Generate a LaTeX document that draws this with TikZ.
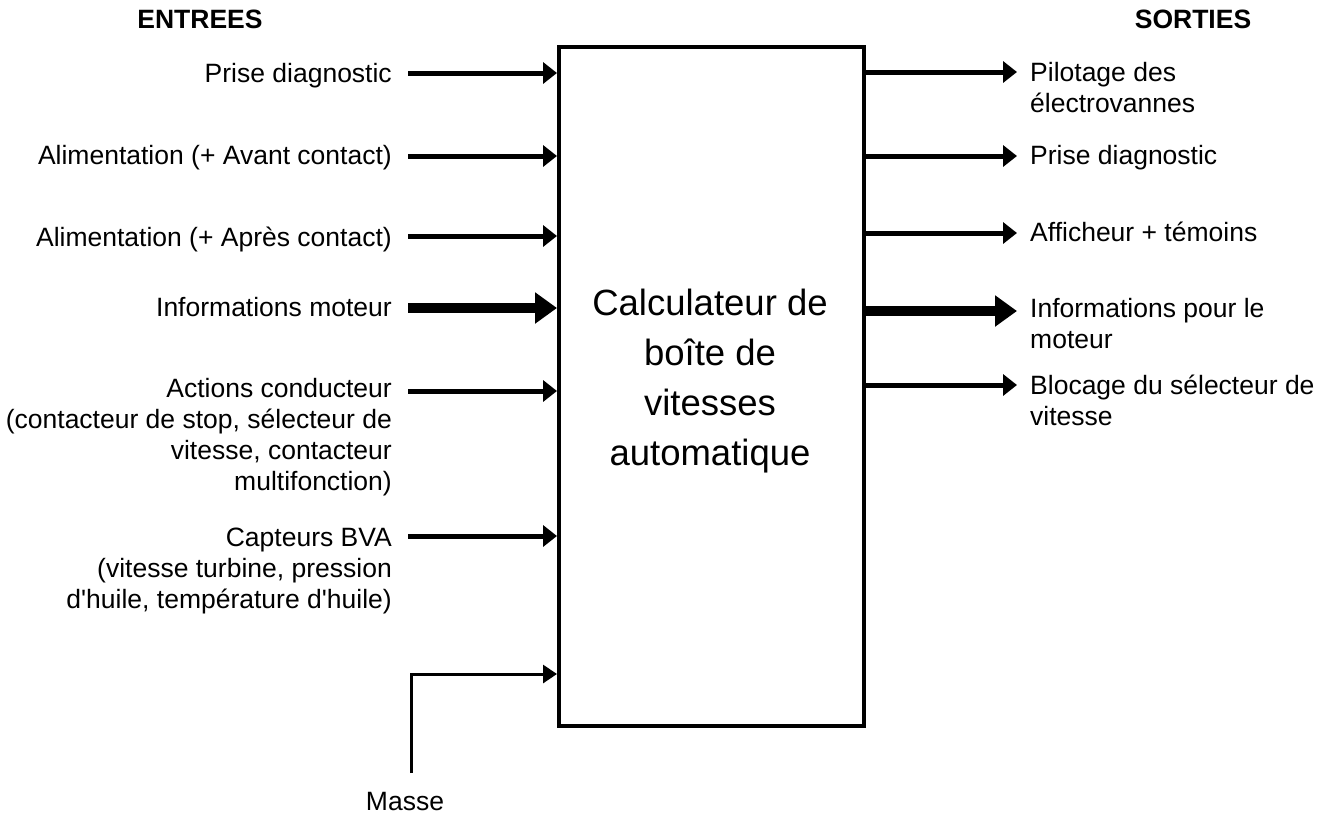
\documentclass[tikz,border=0pt]{standalone}
\usepackage{fontspec}
\setmainfont{Liberation Sans}
\usetikzlibrary{arrows.meta}
\begin{document}
\begin{tikzpicture}[x=1pt,y=-1pt,
  lbl/.style={font=\fontsize{26.5}{31}\selectfont, inner sep=0pt},
  lin/.style={lbl, anchor=north east, align=right},
  rin/.style={lbl, anchor=north west, align=left},
  hdr/.style={font=\bfseries\fontsize{26.5}{31}\selectfont, inner sep=0pt},
  arr/.style={line width=5pt, -{Triangle[length=14pt,width=21pt]}},
  bigarr/.style={line width=10pt, -{Triangle[length=22pt,width=30pt]}},
  smallarr/.style={line width=3pt, -{Triangle[length=14pt,width=18pt]}}]
\useasboundingbox (0,0) rectangle (1332,815);

% central box
\node[draw, line width=3.5pt, minimum width=305pt, minimum height=679pt,
      inner sep=0pt, anchor=north west] (ecu) at (557,45) {};
\node[font=\fontsize{36.5}{50}\selectfont, align=center, inner sep=0pt] (ecutext) at (710,381.5)
  {Calculateur de\\boîte de\\vitesses\\automatique};

% headers
\node[hdr] (entrees) at (200,19) {ENTREES};
\node[hdr] (sorties) at (1193,19) {SORTIES};

% input labels
\node[lin] (l1) at (392,60.8) {\strut Prise diagnostic};
\node[lin] (l2) at (392,142.8) {\strut Alimentation (+ Avant contact)};
\node[lin] (l3) at (392,224.8) {\strut Alimentation (+ Après contact)};
\node[lin] (l4) at (392,294.8) {\strut Informations moteur};
\node[lin] (l5) at (392,375.8) {\strut Actions conducteur\\(contacteur de stop, sélecteur de\\vitesse, contacteur\\multifonction)};
\node[lin] (l6) at (392,524.8) {\strut Capteurs BVA\\(vitesse turbine, pression\\d\textquotesingle huile, température d\textquotesingle huile)};
\node[lbl] (masse) at (405,801) {Masse};

% output labels
\node[rin] (r1) at (1030,59.8) {\strut Pilotage des\\électrovannes};
\node[rin] (r2) at (1030,142.8) {\strut Prise diagnostic};
\node[rin] (r3) at (1030,219.8) {\strut Afficheur + témoins};
\node[rin] (r4) at (1030,295.8) {\strut Informations pour le\\moteur};
\node[rin] (r5) at (1030,372.8) {\strut Blocage du sélecteur de\\vitesse};

% input arrows
\coordinate (a1) at (408,73);
\coordinate (a2) at (408,156);
\coordinate (a3) at (408,236);
\coordinate (a4) at (408,308);
\coordinate (a5) at (408,391);
\coordinate (a6) at (408,536);
\draw[arr] (a1) -- (a1 -| ecu.west);
\draw[arr] (a2) -- (a2 -| ecu.west);
\draw[arr] (a3) -- (a3 -| ecu.west);
\draw[bigarr] (a4) -- (a4 -| ecu.west);
\draw[arr] (a5) -- (a5 -| ecu.west);
\draw[arr] (a6) -- (a6 -| ecu.west);

% masse
\coordinate (m0) at (411,773);
\coordinate (m1) at (411,674);
\draw[smallarr] (m0) -- (m1) -- (m1 -| ecu.west);

% output arrows
\coordinate (o1) at (1017,72);
\coordinate (o2) at (1017,156);
\coordinate (o3) at (1017,233);
\coordinate (o4) at (1017,311);
\coordinate (o5) at (1017,385);
\draw[arr] (o1 -| ecu.east) -- (o1);
\draw[arr] (o2 -| ecu.east) -- (o2);
\draw[arr] (o3 -| ecu.east) -- (o3);
\draw[bigarr] (o4 -| ecu.east) -- (o4);
\draw[arr] (o5 -| ecu.east) -- (o5);
\end{tikzpicture}
\end{document}
